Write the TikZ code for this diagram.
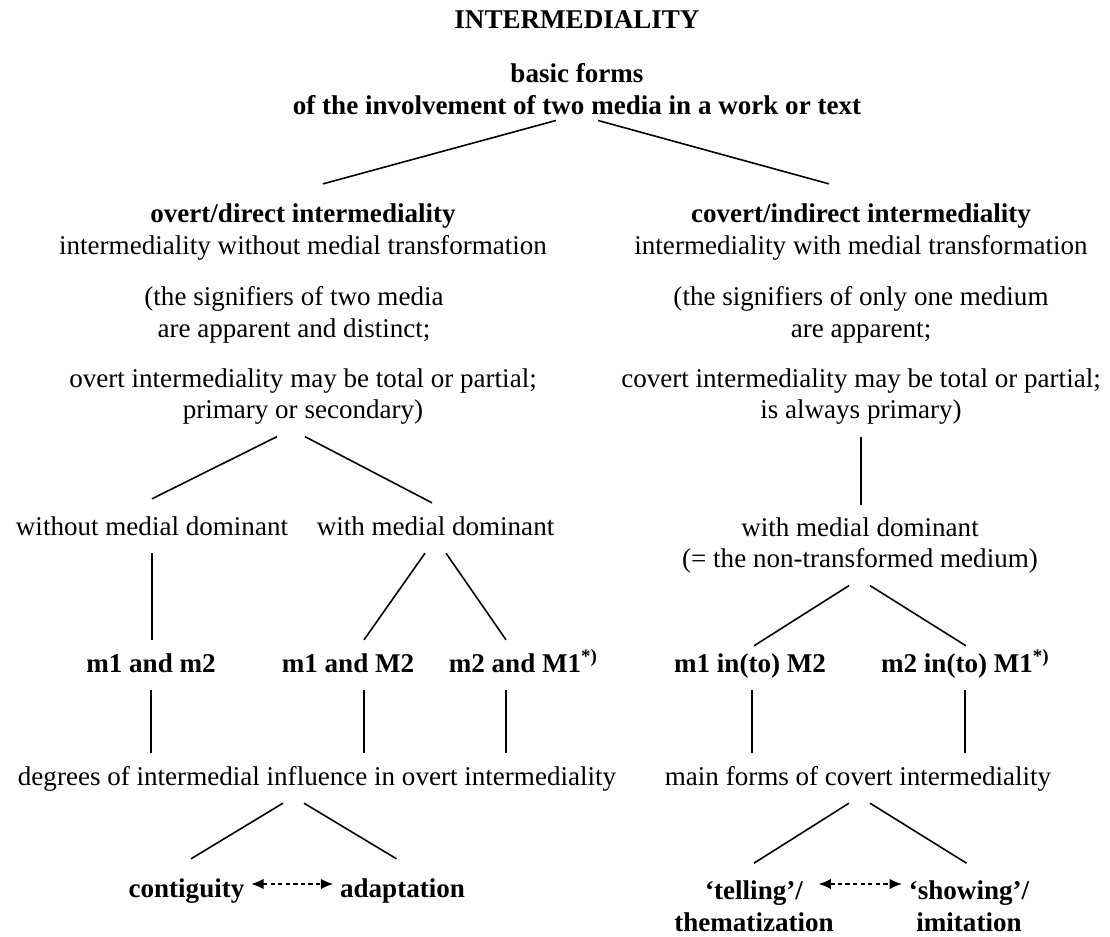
\documentclass[tikz,border=0pt]{standalone}
\usepackage{fontspec}
\setmainfont{Liberation Serif}
\usepackage{tikz}
\usetikzlibrary{arrows.meta}

\newcommand{\diagfont}{\fontsize{15.4}{18}\selectfont}

\begin{document}
\begin{tikzpicture}[
        txt/.style={font=\diagfont, align=center, inner sep=0pt, outer xsep=0.14cm, outer ysep=0.24cm},
        bld/.style={txt, font=\diagfont\bfseries},
        one/.style={text height=11.5pt, text depth=3.5pt},
        ln/.style={line width=0.9pt},
        dbl/.style={{Latex[length=7pt,width=6pt]}-{Latex[length=7pt,width=6pt]}, line width=0.8pt,
        dash pattern=on 2.5pt off 1.8pt}
      ]
      \useasboundingbox (0,0) rectangle (22.2,-18.74);

      \node[bld] (title) at (11.54,-0.40) {INTERMEDIALITY};
      \node[bld] (basic) at (11.54,-1.78) {basic forms\\of the involvement of two media in a work or text};

      \node[txt] (ovhead)  at (6.06,-4.64) {\textbf{overt/direct intermediality}\\intermediality without medial transformation};
      \node[txt] (ovnote1) at (5.88,-6.30) {(the signifiers of two media\\are apparent and distinct;};
      \node[txt] (ovnote2) at (6.06,-7.93) {overt intermediality may be total or partial;\\primary or secondary)};
      \node[txt] (cvhead)  at (17.22,-4.64) {\textbf{covert/indirect intermediality}\\intermediality with medial transformation};
      \node[txt] (cvnote1) at (17.22,-6.30) {(the signifiers of only one medium\\are apparent;};
      \node[txt] (cvnote2) at (17.22,-7.93) {covert intermediality may be total or partial;\\is always primary)};

      \node[txt, one] (nodom)   at (3.04,-10.56) {without medial dominant};
      \node[txt, one] (withdom) at (8.71,-10.56) {with medial dominant};
      \node[txt] (cvdom)   at (17.20,-10.91) {with medial dominant\\(= the non-transformed medium)};

      \node[bld, one] (mm)  at (3.02,-13.30)  {m1 and m2};
      \node[bld, one] (mM)  at (6.96,-13.30)  {m1 and M2};
      \node[bld, one] (Mm)  at (10.30,-13.30) {m2 and M1\rlap{\textsuperscript{*)}}};
      \node[bld, one] (inM) at (15.00,-13.30) {m1 in(to) M2};
      \node[bld, one] (inm) at (19.14,-13.30) {m2 in(to) M1\rlap{\textsuperscript{*)}}};

      \node[txt, one] (degrees)   at (6.34,-15.56)  {degrees of intermedial influence in overt intermediality};
      \node[txt, one] (mainforms) at (17.16,-15.56) {main forms of covert intermediality};

      \node[bld, one] (contig)  at (3.73,-17.80)  {contiguity};
      \node[bld, one] (adapt)   at (8.05,-17.80)  {adaptation};
      \node[bld] (telling) at (15.08,-18.13) {‘telling’/\\thematization};
      \node[bld] (showing) at (19.38,-18.13) {‘showing’/\\imitation};

      \draw[ln] ([xshift=-0.42cm,yshift=0.12cm]basic.south) -- ([xshift=0.40cm,yshift=0.16cm]ovhead.north);
      \draw[ln] ([xshift=0.42cm,yshift=0.12cm]basic.south) -- ([xshift=-0.64cm,yshift=0.16cm]cvhead.north);

      \draw[ln] ([xshift=-0.52cm]ovnote2.south) -- ([yshift=0.08cm]nodom.north);
      \draw[ln] ([xshift=0.04cm]ovnote2.south) -- ([xshift=-0.07cm]withdom.north);
      \draw[ln] (cvnote2.south) -- (cvnote2.south |- cvdom.north);

      \draw[ln] (nodom.south) -- (nodom.south |- mm.north);
      \draw[ln] ([xshift=-0.21cm]withdom.south) -- ([xshift=0.32cm]mM.north);
      \draw[ln] ([xshift=0.21cm]withdom.south) -- ([xshift=-0.18cm]Mm.north);
      \draw[ln] ([xshift=-0.22cm]cvdom.south) -- ([xshift=0.08cm,yshift=-0.12cm]inM.north);
      \draw[ln] ([xshift=0.20cm]cvdom.south) -- ([xshift=0.18cm,yshift=-0.12cm]inm.north);

      % short verticals down to the two summary lines
      \draw[ln] (mm.south) -- (mm.south |- degrees.north);
      \draw[ln] ([xshift=0.32cm]mM.south) -- ([xshift=0.32cm]mM.south |- degrees.north);
      \draw[ln] ([xshift=-0.18cm]Mm.south) -- ([xshift=-0.18cm]Mm.south |- degrees.north);
      \draw[ln] ([xshift=0.04cm]inM.south) -- ([xshift=0.04cm]inM.south |- mainforms.north);
      \draw[ln] ([xshift=0.16cm]inm.south) -- ([xshift=0.16cm]inm.south |- mainforms.north);

      \draw[ln] ([xshift=-0.68cm]degrees.south) -- ([xshift=0.09cm,yshift=0.12cm]contig.north);
      \draw[ln] ([xshift=-0.26cm]degrees.south) -- ([xshift=-0.12cm,yshift=0.12cm]adapt.north);
      \draw[ln] ([xshift=-0.18cm]mainforms.south) -- ([yshift=0.12cm]telling.north);
      \draw[ln] ([xshift=0.24cm]mainforms.south) -- ([xshift=-0.05cm,yshift=0.12cm]showing.north);

      \draw[dbl] ([yshift=0.12cm]contig.east) -- ([yshift=0.12cm]adapt.west);
      \draw[dbl] ([xshift=-0.44cm,yshift=0.45cm]telling.east) -- ([yshift=0.45cm]showing.west);
    \end{tikzpicture}
\end{document}
